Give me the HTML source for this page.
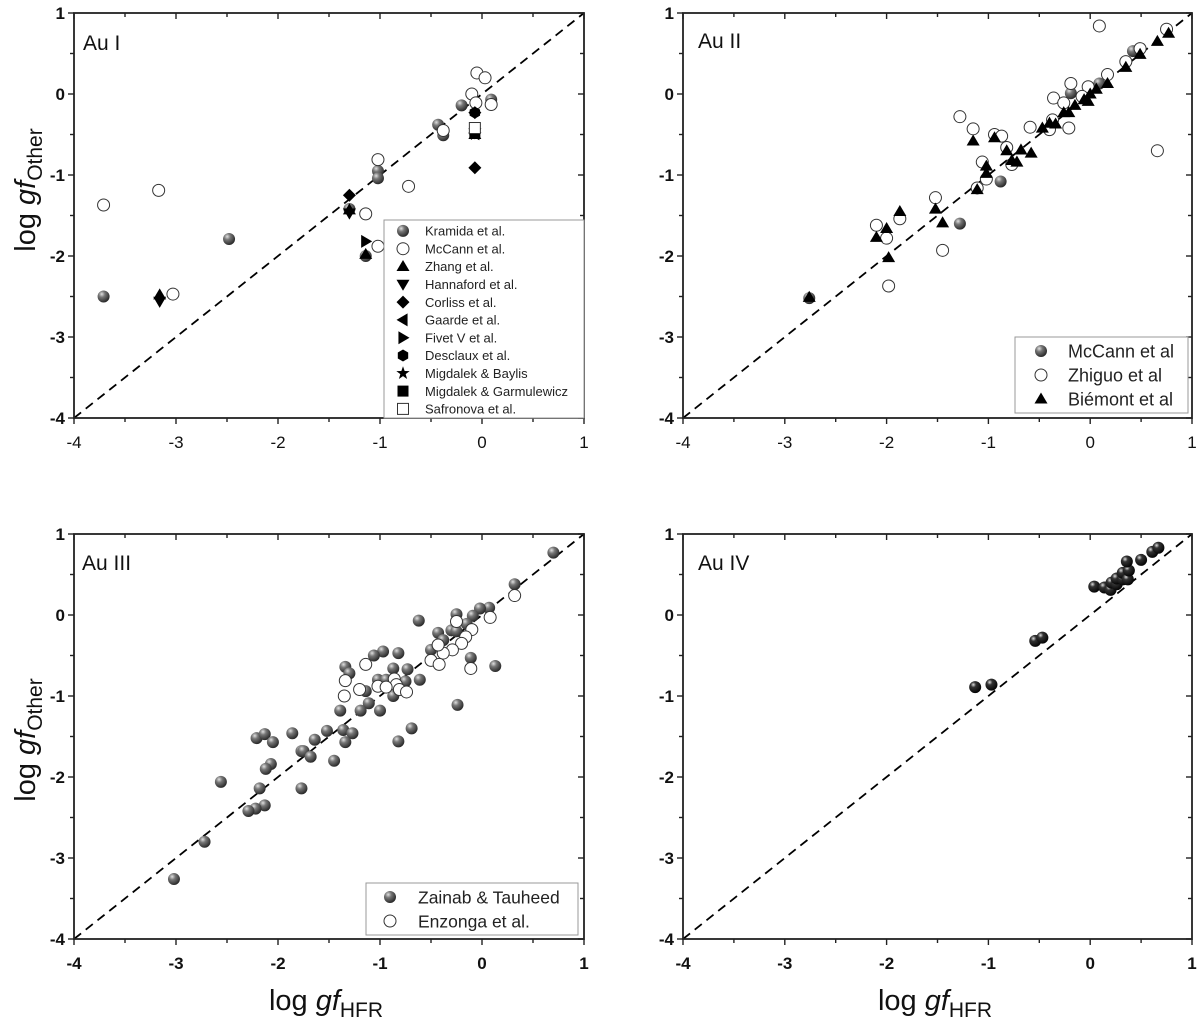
<!DOCTYPE html>
<html><head><meta charset="utf-8"><style>
html,body{margin:0;padding:0;background:#fff;}
svg{display:block;font-family:"Liberation Sans",Arial,sans-serif;}
</style></head><body>
<svg id="chart" width="1200" height="1027" viewBox="0 0 1200 1027" xmlns="http://www.w3.org/2000/svg">
<defs>
<radialGradient id="gray" cx="0.35" cy="0.3" r="0.75"><stop offset="0" stop-color="#e0e0e0"/><stop offset="0.35" stop-color="#777"/><stop offset="1" stop-color="#222"/></radialGradient>
<radialGradient id="dark" cx="0.35" cy="0.3" r="0.75"><stop offset="0" stop-color="#ddd"/><stop offset="0.3" stop-color="#333"/><stop offset="1" stop-color="#000"/></radialGradient>
</defs>
<g id="root"></g>
</svg>
<script>
// ---------- Data (log gf_HFR, log gf_Other) ----------
const auI_kramidaX=[-3.71,-2.48,-1.30,-1.14,-1.02,-1.02,-0.43,-0.38,-0.20,0.09];
const auI_kramidaY=[-2.50,-1.79,-1.42,-2.00,-0.95,-1.04,-0.38,-0.51,-0.14,-0.07];
const auI_mccannX=[-3.71,-3.17,-3.03,-1.02,-0.72,-1.14,-1.02,-0.38,-0.10,-0.05,0.03,0.09,-0.06];
const auI_mccannY=[-1.37,-1.19,-2.47,-0.81,-1.14,-1.48,-1.88,-0.45,0.00,0.26,0.20,-0.13,-0.11];
const auI_zhangX=[-3.16,-1.14,-1.30,-0.07];
const auI_zhangY=[-2.48,-1.98,-1.43,-0.50];
const auI_hannafordX=[-3.16,-1.30,-0.07];
const auI_hannafordY=[-2.56,-1.47,-0.48];
const auI_corlissX=[-1.30,-0.07,-0.07];
const auI_corlissY=[-1.25,-0.91,-0.23];
const auI_gaardeX=[-0.07];
const auI_gaardeY=[-0.49];
const auI_fivetX=[-1.14];
const auI_fivetY=[-1.82];
const auI_desclauxX=[-0.07];
const auI_desclauxY=[-0.23];
const auI_baylisX=[-0.07];
const auI_baylisY=[-0.50];
const auI_garmX=[-0.07];
const auI_garmY=[-0.47];
const auI_safronovaX=[-0.07];
const auI_safronovaY=[-0.42];

const auII_mccannX=[-2.76,-1.28,-0.88,-0.19,0.09,0.42];
const auII_mccannY=[-2.52,-1.60,-1.08,0.01,0.13,0.53];
const auII_zhiguoX=[0.09,0.75,0.49,0.35,0.17,-0.02,-0.19,-0.08,-0.36,-0.26,-0.21,-0.40,-0.59,-1.28,-1.15,-0.94,-0.87,-0.82,-0.77,-1.06,-1.02,-1.11,-1.52,-1.87,-2.10,-2.00,-1.45,-1.98,0.66,-0.37];
const auII_zhiguoY=[0.84,0.80,0.56,0.40,0.24,0.09,0.13,-0.03,-0.05,-0.11,-0.42,-0.44,-0.41,-0.28,-0.43,-0.50,-0.52,-0.66,-0.87,-0.84,-1.05,-1.16,-1.28,-1.54,-1.62,-1.78,-1.93,-2.37,-0.70,-0.32];
const auII_biemontX=[-2.76,-2.10,-2.00,-1.98,-1.87,-1.52,-1.45,-1.15,-0.94,-0.82,-0.68,-0.58,-0.77,-0.72,-1.02,-1.02,-1.11,-0.47,-0.40,-0.34,-0.26,-0.21,-0.15,-0.06,-0.02,0.00,0.06,0.17,0.35,0.49,0.66,0.77];
const auII_biemontY=[-2.51,-1.77,-1.66,-2.02,-1.45,-1.42,-1.59,-0.58,-0.54,-0.70,-0.69,-0.73,-0.82,-0.84,-0.89,-0.98,-1.18,-0.42,-0.36,-0.37,-0.23,-0.23,-0.14,-0.07,-0.09,0.00,0.06,0.13,0.33,0.49,0.65,0.75];

const auIII_zainabX=[0.70,0.32,0.07,-0.02,-0.25,-0.62,-0.09,-0.15,-0.43,-0.30,-0.25,-0.38,-0.50,-0.11,0.13,-0.24,-0.97,-1.06,-0.82,-1.34,-1.30,-0.87,-0.73,-0.61,-0.75,-1.02,-0.94,-0.87,-1.14,-1.11,-1.00,-1.19,-1.39,-1.36,-1.27,-1.34,-0.82,-0.69,-1.45,-1.52,-1.64,-1.86,-2.21,-2.13,-2.05,-1.77,-1.75,-1.68,-2.07,-2.12,-1.77,-2.18,-2.13,-2.22,-2.29,-2.56,-2.72,-3.02];
const auIII_zainabY=[0.77,0.38,0.09,0.08,0.01,-0.07,-0.01,-0.11,-0.22,-0.19,-0.20,-0.31,-0.43,-0.53,-0.63,-1.11,-0.45,-0.50,-0.47,-0.64,-0.72,-0.66,-0.67,-0.80,-0.82,-0.80,-0.80,-1.00,-0.94,-1.09,-1.18,-1.18,-1.18,-1.42,-1.46,-1.57,-1.56,-1.40,-1.80,-1.43,-1.54,-1.46,-1.52,-1.47,-1.57,-1.68,-1.68,-1.75,-1.84,-1.90,-2.14,-2.14,-2.35,-2.39,-2.42,-2.06,-2.80,-3.26];
const auIII_enzongaX=[0.32,0.08,-0.25,-0.10,-0.16,-0.20,-0.29,-0.38,-0.43,-0.50,-0.42,-0.11,-1.14,-1.34,-1.35,-1.20,-1.02,-0.86,-0.84,-0.81,-0.74,-0.94];
const auIII_enzongaY=[0.24,-0.03,-0.08,-0.18,-0.27,-0.35,-0.43,-0.47,-0.37,-0.56,-0.61,-0.66,-0.61,-0.81,-1.00,-0.92,-0.88,-0.79,-0.86,-0.92,-0.95,-0.89];

const auIV_X=[0.04,0.14,0.20,0.21,0.26,0.26,0.32,0.32,0.37,0.38,0.36,0.50,0.61,0.67,-0.54,-0.47,-1.13,-0.97];
const auIV_Y=[0.35,0.34,0.31,0.40,0.38,0.45,0.44,0.52,0.44,0.55,0.66,0.68,0.78,0.83,-0.32,-0.28,-0.89,-0.86];

const xTicks=[-4,-3,-2,-1,0,1];
const yTicks=[1,0,-1,-2,-3,-4];

// ---------- Rendering ----------
const NS='http://www.w3.org/2000/svg';
const root=document.getElementById('root');
function mk(tag,attrs,parent){const e=document.createElementNS(NS,tag);for(const k in attrs)e.setAttribute(k,attrs[k]);(parent||root).appendChild(e);return e;}

function panel(name,x0,x1,y0,y1,bold){
  const g=mk('g',{});
  
  
  const sx=v=>x0+(v+4)/5*(x1-x0);
  const sy=v=>y1-(v+4)/5*(y1-y0);
  const d=mk('line',{x1:sx(-4),y1:sy(-4),x2:sx(1),y2:sy(1),stroke:'#000','stroke-width':1.8,'stroke-dasharray':'9,6'},g);
  
  
  const f=mk('rect',{x:x0,y:y0,width:x1-x0,height:y1-y0,fill:'none',stroke:'#222','stroke-width':1.8},g);
  
  
  for(let v=-4;v<=1.001;v+=0.5){
    const maj=Math.abs(v-Math.round(v))<0.01, L=maj?6:4;
    mk('line',{x1:sx(v),y1:y1,x2:sx(v),y2:y1+L,stroke:'#222','stroke-width':1.4},g);
    mk('line',{x1:sx(v),y1:y0,x2:sx(v),y2:y0+L,stroke:'#222','stroke-width':1.4},g);
    mk('line',{x1:x0,y1:sy(v),x2:x0-L,y2:sy(v),stroke:'#222','stroke-width':1.4},g);
    mk('line',{x1:x1,y1:sy(v),x2:x1-L,y2:sy(v),stroke:'#222','stroke-width':1.4},g);
  }
  xTicks.forEach(t=>{
    const e=mk('text',{x:sx(t),y:y1+30,'text-anchor':'middle','font-size':17,'font-weight':bold?'bold':'normal',fill:'#111'},g);
    e.textContent=t;
    
    
  });
  yTicks.forEach(t=>{
    const e=mk('text',{x:x0-9,y:sy(t)+6,'text-anchor':'end','font-size':17,'font-weight':'bold',fill:'#111'},g);
    e.textContent=t;
    
    
  });
  return {g,sx,sy};
}

function marker(g,type,cx,cy,fill){
  const s=6.5;let e;
  switch(type){
    case 'sphere': e=mk('circle',{cx,cy,r:6,fill:fill||'url(#gray)'},g);break;
    case 'open': e=mk('circle',{cx,cy,r:6,fill:'#fff',stroke:'#333','stroke-width':1},g);break;
    case 'up': e=mk('polygon',{points:`${cx},${cy-s} ${cx-s},${cy+s*0.7} ${cx+s},${cy+s*0.7}`,fill:'#000'},g);break;
    case 'down': e=mk('polygon',{points:`${cx},${cy+s} ${cx-s},${cy-s*0.7} ${cx+s},${cy-s*0.7}`,fill:'#000'},g);break;
    case 'diamond': e=mk('polygon',{points:`${cx},${cy-s} ${cx+s},${cy} ${cx},${cy+s} ${cx-s},${cy}`,fill:'#000'},g);break;
    case 'left': e=mk('polygon',{points:`${cx-s},${cy} ${cx+s*0.7},${cy-s} ${cx+s*0.7},${cy+s}`,fill:'#000'},g);break;
    case 'right': e=mk('polygon',{points:`${cx+s},${cy} ${cx-s*0.7},${cy-s} ${cx-s*0.7},${cy+s}`,fill:'#000'},g);break;
    case 'hex': {let p=[];for(let i=0;i<6;i++){const a=Math.PI/3*i+Math.PI/6;p.push((cx+6*Math.cos(a))+','+(cy+6*Math.sin(a)));}e=mk('polygon',{points:p.join(' '),fill:'#000'},g);break;}
    case 'star': {let p=[];for(let i=0;i<10;i++){const r=i%2?2.8:7,a=-Math.PI/2+Math.PI/5*i;p.push((cx+r*Math.cos(a))+','+(cy+r*Math.sin(a)));}e=mk('polygon',{points:p.join(' '),fill:'#000'},g);break;}
    case 'square': e=mk('rect',{x:cx-5.5,y:cy-5.5,width:11,height:11,fill:'#000'},g);break;
    case 'osquare': e=mk('rect',{x:cx-5.5,y:cy-5.5,width:11,height:11,fill:'#fff',stroke:'#333','stroke-width':1},g);break;
  }
  return e;
}

function series(p,name,xs,ys,type,fill){
  const g=mk('g',{},p.g);
  
  
  xs.forEach((x,i)=>{
    const e=marker(g,type,p.sx(x),p.sy(ys[i]),fill);
    
    
  });
}

function label(p,txt,x,y){
  const e=mk('text',{x,y,'font-size':21,fill:'#111'},p.g);
  e.textContent=txt;
  
  
}

function legend(p,x,y,w,h,items,fs,rowH,mx,tx){
  const g=mk('g',{},p.g);
  
  
  mk('rect',{x,y,width:w,height:h,fill:'#fff',stroke:'#999','stroke-width':1},g);
  items.forEach((it,i)=>{
    const cy=y+rowH*(i+0.5)+2;
    const ig=mk('g',{},g);
    
    
    marker(ig,it[1],x+mx,cy);
    const t=mk('text',{x:x+tx,y:cy+fs*0.36,'font-size':fs,fill:'#222'},ig);
    t.textContent=it[0];
  });
}

const p1=panel('panel-au-i',74,584,13,418,false);
label(p1,'Au I',83,50);
series(p1,'series-kramida',auI_kramidaX,auI_kramidaY,'sphere');
series(p1,'series-mccann',auI_mccannX,auI_mccannY,'open');
series(p1,'series-zhang',auI_zhangX,auI_zhangY,'up');
series(p1,'series-hannaford',auI_hannafordX,auI_hannafordY,'down');
series(p1,'series-corliss',auI_corlissX,auI_corlissY,'diamond');
series(p1,'series-gaarde',auI_gaardeX,auI_gaardeY,'left');
series(p1,'series-fivet',auI_fivetX,auI_fivetY,'right');
series(p1,'series-desclaux',auI_desclauxX,auI_desclauxY,'hex');
series(p1,'series-migdalek-baylis',auI_baylisX,auI_baylisY,'star');
series(p1,'series-migdalek-garmulewicz',auI_garmX,auI_garmY,'square');
series(p1,'series-safronova',auI_safronovaX,auI_safronovaY,'osquare');
legend(p1,384,220,200,198,[['Kramida et al.','sphere'],['McCann et al.','open'],['Zhang et al.','up'],['Hannaford et al.','down'],['Corliss et al.','diamond'],['Gaarde et al.','left'],['Fivet V et al.','right'],['Desclaux et al.','hex'],['Migdalek & Baylis','star'],['Migdalek & Garmulewicz','square'],['Safronova et al.','osquare']],13,17.8,19,41);

const p2=panel('panel-au-ii',683,1192,13,418,false);
label(p2,'Au II',698,48);
series(p2,'series-mccann',auII_mccannX,auII_mccannY,'sphere');
series(p2,'series-zhiguo',auII_zhiguoX,auII_zhiguoY,'open');
series(p2,'series-biemont',auII_biemontX,auII_biemontY,'up');
legend(p2,1015,337,173,76,[['McCann et al','sphere'],['Zhiguo et al','open'],['Biémont et al','up']],18,24,26,53);

const p3=panel('panel-au-iii',74,584,534,939,true);
label(p3,'Au III',82,570);
series(p3,'series-zainab-tauheed',auIII_zainabX,auIII_zainabY,'sphere');
series(p3,'series-enzonga',auIII_enzongaX,auIII_enzongaY,'open');
legend(p3,366,883,212,52,[['Zainab & Tauheed','sphere'],['Enzonga et al.','open']],17.5,24,24,52);

const p4=panel('panel-au-iv',683,1192,534,939,true);
label(p4,'Au IV',698,570);
series(p4,'series-au-iv',auIV_X,auIV_Y,'sphere','url(#dark)');

function title(sub,x,y,rot,name){
  const t=mk('text',{x,y,'font-size':29,'text-anchor':'middle',fill:'#111',transform:rot?`rotate(-90 ${x} ${y})`:''});
  
  
  t.innerHTML=`log <tspan font-style="italic">gf</tspan><tspan font-size="21" dy="7">${sub}</tspan>`;
}
title('Other',35,190,true,'y-axis-title-top');
title('Other',35,740,true,'y-axis-title-bottom');
title('HFR',326,1010,false,'x-axis-title-left');
title('HFR',935,1010,false,'x-axis-title-right');
</script>
</body></html>
